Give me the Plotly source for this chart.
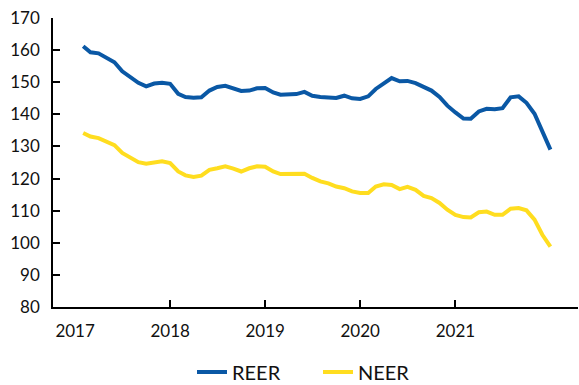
import pandas as pd
import plotly.graph_objects as go

# Monthly observations, Jan 2017 - Dec 2021
months = pd.date_range("2017-01-01", periods=60, freq="MS").strftime("%Y-%m-%d").tolist()

reer = [
    161.2, 159.3, 159.0, 157.5, 156.2, 153.4, 151.6, 149.8, 148.7, 149.6, 149.8, 149.5,
    146.4, 145.4, 145.2, 145.3, 147.4, 148.5, 148.9, 148.1, 147.3, 147.4, 148.1, 148.2,
    146.8, 146.1, 146.2, 146.3, 147.0, 145.8, 145.4, 145.2, 145.1, 145.8, 145.0, 144.8,
    145.6, 147.9, 149.5, 151.3, 150.3, 150.4, 149.7, 148.5, 147.4, 145.4, 142.7, 140.6,
    138.7, 138.6, 140.9, 141.7, 141.6, 141.9, 145.3, 145.6, 143.6, 140.2, 134.6, 129.0,
]

neer = [
    134.2, 133.1, 132.6, 131.6, 130.4, 128.0, 126.4, 125.1, 124.6, 125.1, 125.4, 124.8,
    122.2, 121.0, 120.5, 120.9, 122.7, 123.2, 123.8, 123.1, 122.2, 123.2, 123.8, 123.7,
    122.2, 121.4, 121.5, 121.4, 121.5, 120.2, 119.1, 118.5, 117.5, 117.0, 116.0, 115.5,
    115.5, 117.5, 118.2, 118.0, 116.7, 117.4, 116.5, 114.6, 113.9, 112.4, 110.3, 108.7,
    108.0, 107.9, 109.5, 109.7, 108.7, 108.7, 110.6, 110.8, 110.1, 107.2, 102.5, 98.8,
]

year_ticks = ["2017-01-01", "2018-01-01", "2019-01-01", "2020-01-01", "2021-01-01"]
year_labels = ["2017", "2018", "2019", "2020", "2021"]

BLUE = "#0A58A5"
YELLOW = "#FFDD1F"
FONT = dict(family="Lato, 'Open Sans', sans-serif", size=17, color="#111111")
LEGEND_FONT = dict(family="Lato, 'Open Sans', sans-serif", size=20, color="#111111")

fig = go.Figure()
fig.add_trace(go.Scatter(
    x=months, y=reer, name="REER", mode="lines",
    xperiod="M1", xperiodalignment="end",
    line=dict(color=BLUE, width=4),
))
fig.add_trace(go.Scatter(
    x=months, y=neer, name="NEER", mode="lines",
    xperiod="M1", xperiodalignment="end",
    line=dict(color=YELLOW, width=4),
))

fig.update_layout(
    width=579, height=385,
    margin=dict(l=53, r=1, t=18, b=78, autoexpand=False),
    paper_bgcolor="white", plot_bgcolor="white",
    font=FONT,
    showlegend=True,
    legend=dict(
        orientation="h",
        xref="container", x=192 / 579, xanchor="left",
        yref="container", y=13 / 385, yanchor="middle",
        entrywidth=81, entrywidthmode="pixels",
        itemwidth=30,
        font=LEGEND_FONT, bgcolor="rgba(0,0,0,0)",
    ),
)

fig.update_xaxes(
    type="date",
    range=["2016-10-08", "2022-04-17"],
    tickvals=year_ticks, ticktext=year_labels,
    ticks="", showgrid=False, zeroline=False,
    showline=True, linecolor="black", linewidth=1.5,
    ticklabelstandoff=8,
    minor=dict(tickvals=year_ticks[1:], ticks="inside", ticklen=7,
               tickcolor="black", tickwidth=1.5, showgrid=False),
)

fig.update_yaxes(
    range=[80, 170], dtick=10, tick0=80,
    ticks="inside", ticklen=7, tickcolor="black", tickwidth=1.5,
    showgrid=False, zeroline=False,
    showline=True, linecolor="black", linewidth=1.5,
    ticklabelstandoff=8,
)

fig.write_html("out.html")
